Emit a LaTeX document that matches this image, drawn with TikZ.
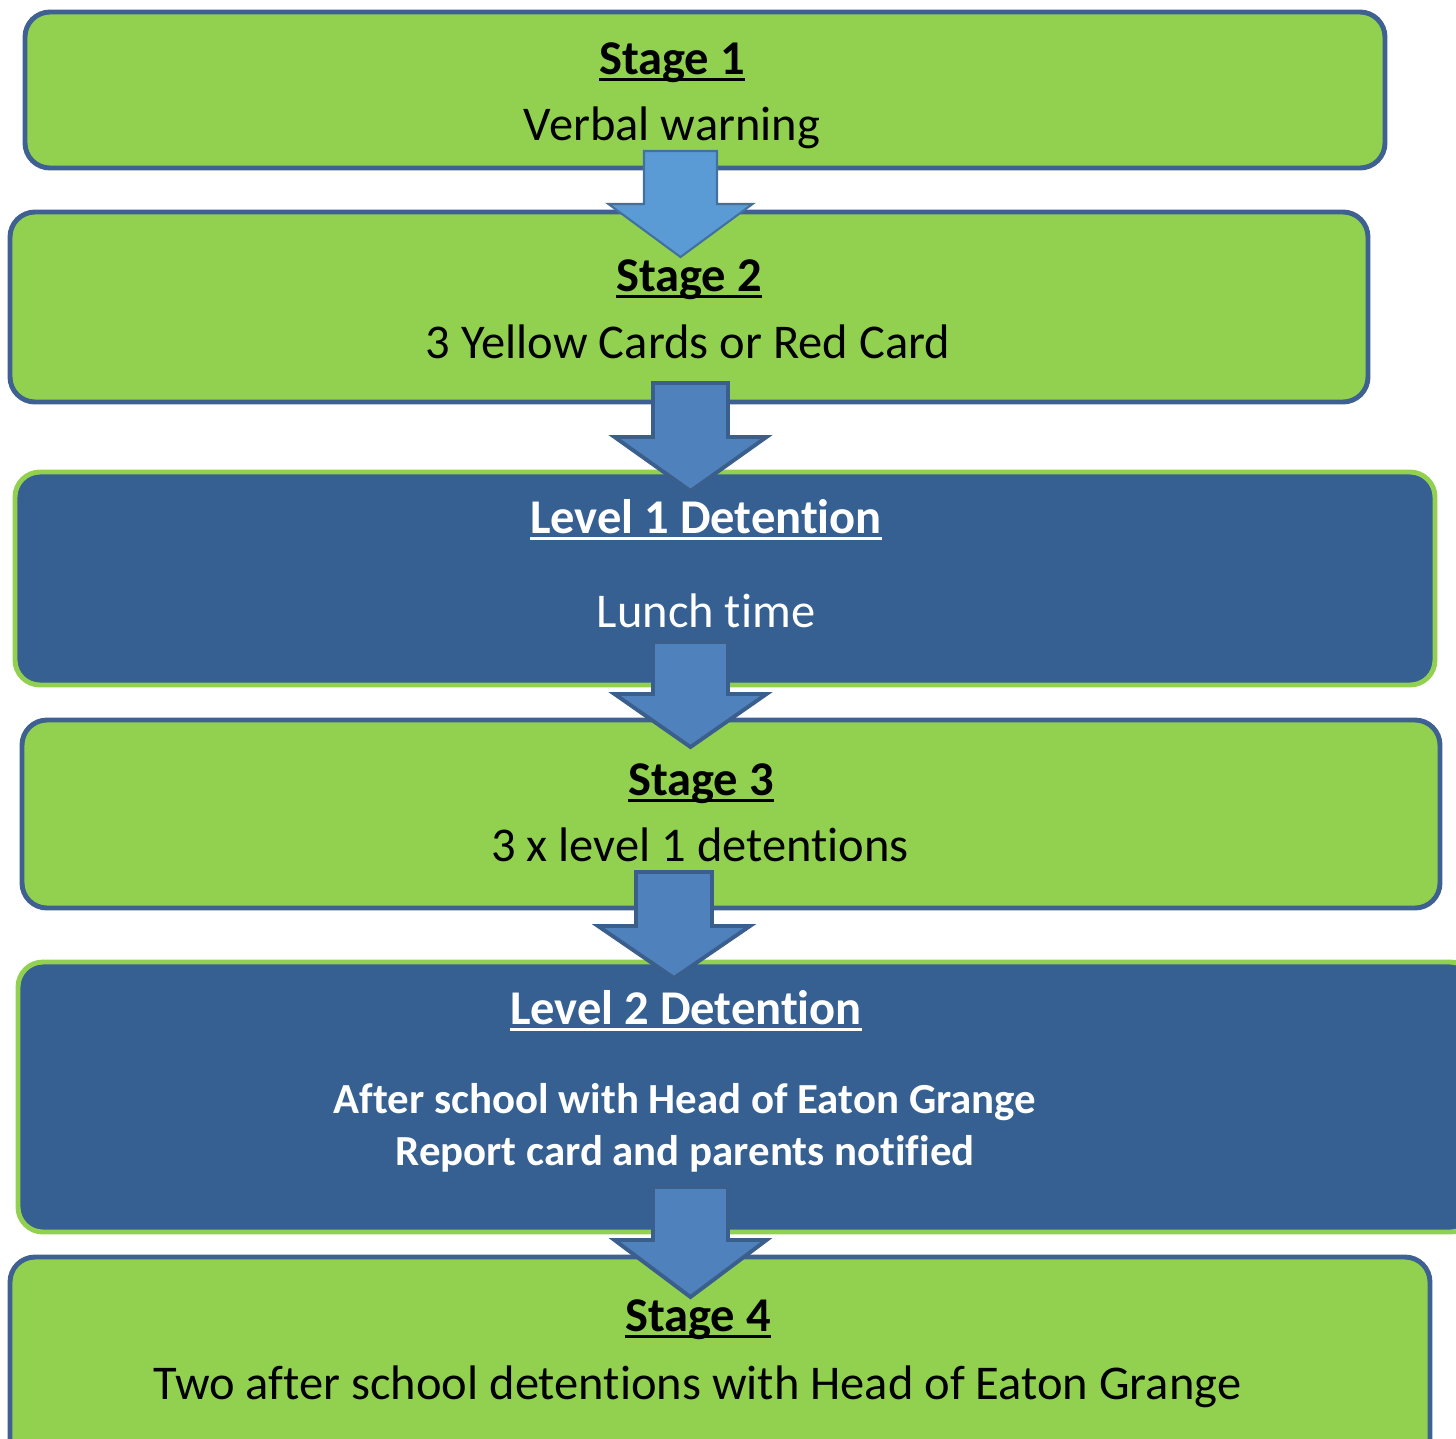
\documentclass[tikz,border=0pt]{standalone}
\usepackage{fontspec}
\setmainfont{Carlito}[Ligatures=NoCommon]
\usepackage{xcolor}
\definecolor{StageGreen}{HTML}{92D050}
\definecolor{BoxEdge}{HTML}{3F6191}
\definecolor{DetBlue}{HTML}{366092}
\definecolor{ArrowBlue}{HTML}{4F81BD}
\definecolor{ArrowEdge}{HTML}{3A5F8C}
\definecolor{ArrowLight}{HTML}{5B9BD5}
\definecolor{ArrowLightEdge}{HTML}{41719C}

% bold title with a flat underline under the baseline
\newcommand{\ultitle}[1]{\setbox0\hbox{\bfseries #1}\rlap{\rule[-2pt]{\wd0}{0.85pt}}\box0}
% block arrow: centre x, top, head base, tip, half shaft, half head, style
\newcommand{\DownBlock}[7]{%
  \draw[#7] ({#1-#5},#2) -- ({#1+#5},#2) -- ({#1+#5},#3) -- ({#1+#6},#3)
    -- (#1,#4) -- ({#1-#6},#3) -- ({#1-#5},#3) -- cycle;}

\begin{document}
\begin{tikzpicture}[x=0.1mm,y=-0.1mm]
		\tikzstyle{StageBox}=[draw=BoxEdge,fill=StageGreen,line width=1.4pt,rounded corners=2.5mm,inner sep=0pt]
		\tikzstyle{DetBox}=[draw=StageGreen,fill=DetBlue,line width=1.4pt,rounded corners=2.5mm,inner sep=0pt]
		\tikzstyle{BoxText}=[anchor=base,inner sep=0pt,font=\fontsize{13.8}{16}\selectfont]
		\tikzstyle{SmallText}=[anchor=base,inner sep=0pt,font=\fontsize{12.2}{14.8}\selectfont\bfseries,text=white]
		\tikzstyle{ArrowStyle}=[fill=ArrowBlue,draw=ArrowEdge,line width=1.1pt,line join=miter]
		\tikzstyle{FirstArrow}=[fill=ArrowLight,draw=ArrowLightEdge,line width=0.6pt,line join=miter]
		\useasboundingbox (0,0) rectangle (1456,1438);
		\clip (0,0) rectangle (1456,1438);
		% boxes
		\node[StageBox,minimum width=136mm,minimum height=15.6mm] (stage1) at (705,90) {};
		\node[StageBox,minimum width=135.8mm,minimum height=19mm] (stage2) at (689,307) {};
		\node[DetBox,minimum width=142mm,minimum height=21.3mm] (level1) at (725,578.5) {};
		\node[StageBox,minimum width=141.8mm,minimum height=18.8mm] (stage3) at (731,814) {};
		\node[DetBox,minimum width=145.7mm,minimum height=27mm] (level2) at (746.5,1097) {};
		\node[StageBox,minimum width=142mm,minimum height=21.3mm] (stage4) at (720,1363.5) {};
		% texts
		\node[BoxText] (stage1title) at (672,74) {\ultitle{Stage 1}};
		\node[BoxText] (stage1text) at (672,140) {Verbal warning};
		\node[BoxText] (stage2title) at (689,291) {\ultitle{Stage 2}};
		\node[BoxText] (stage2text) at (688,358) {3 Yellow Cards or Red Card};
		\node[BoxText,text=white] (level1title) at (706,533) {\ultitle{Level 1 Detention}};
		\node[BoxText,text=white] (level1text) at (706,627) {Lunch time};
		\node[BoxText] (stage3title) at (701,795) {\ultitle{Stage 3}};
		\node[BoxText] (stage3text) at (700,861) {3 x level 1 detentions};
		\node[BoxText,text=white] (level2title) at (686,1024) {\ultitle{Level 2 Detention}};
		\node[SmallText] (level2texta) at (685,1113) {After school with Head of Eaton Grange};
		\node[SmallText] (level2textb) at (685,1165) {Report card and parents notified};
		\node[BoxText] (stage4title) at (698,1331) {\ultitle{Stage 4}};
		\node[BoxText] (stage4text) at (697.5,1399) {Two after school detentions with Head of Eaton Grange};
		% arrows
		\DownBlock{680.5}{151}{204}{257}{36.5}{72}{FirstArrow}
		\DownBlock{690.5}{383}{437}{491}{37.5}{76}{ArrowStyle}
		\DownBlock{690.5}{642}{694}{747}{37.5}{76}{ArrowStyle}
		\DownBlock{674}{872}{926}{978}{38}{76}{ArrowStyle}
		\DownBlock{690.5}{1187}{1240}{1297}{37.5}{76}{ArrowStyle}
		%\DownBlock{698}{1430}{1480}{1530}{37.5}{79}{ArrowStyle}
	\end{tikzpicture}
\end{document}
